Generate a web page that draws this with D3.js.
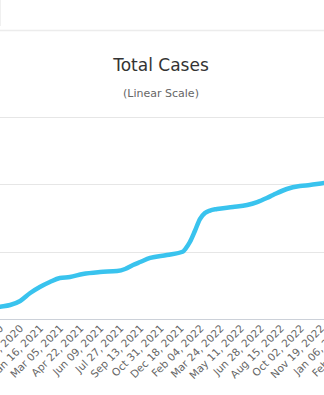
<!DOCTYPE html>
<html>
<head>
<meta charset="utf-8">
<script src="https://cdn.jsdelivr.net/npm/d3@7"></script>
<style>
  html, body { margin: 0; padding: 0; background: #fff; overflow: hidden; }
  svg { display: block; }
</style>
</head>
<body>
<svg id="chart" width="324" height="395"></svg>
<script>
// Cumulative case count, sampled along the curve
const dates = [
  "2020-09-01","2020-10-03","2020-10-27","2020-11-20","2020-12-14","2021-01-06","2021-01-30",
  "2021-02-23","2021-03-19","2021-04-19","2021-05-30","2021-07-10","2021-07-29",
  "2021-08-17","2021-09-03","2021-09-27","2021-11-06","2021-12-15","2021-12-20",
  "2021-12-31","2022-01-12","2022-01-24","2022-02-05","2022-02-17","2022-03-06",
  "2022-04-13","2022-05-17","2022-06-10","2022-07-03","2022-07-18","2022-08-20",
  "2022-09-20","2022-10-14","2022-11-17","2023-01-10","2023-03-01"
];
const totalCases = [
  150000,182000,207000,267000,385000,474000,548000,
  607000,622000,667000,696000,711000,741000,
  800000,844000,904000,948000,1000000,1037000,
  1140000,1304000,1481000,1570000,1607000,1630000,
  1659000,1689000,1733000,1793000,1837000,1926000,
  1970000,1985000,2015000,2040000,2060000
];
// Axis tick dates, one every 48 days
const tickDates = [
  "2020-08-25","2020-10-12","2020-11-29","2021-01-16","2021-03-05","2021-04-22",
  "2021-06-09","2021-07-27","2021-09-13","2021-10-31","2021-12-18","2022-02-04",
  "2022-03-24","2022-05-11","2022-06-28","2022-08-15","2022-10-02","2022-11-19",
  "2023-01-06","2023-02-23"
];
const gridValues = [1000000, 2000000, 3000000];
const titleText = "Total Cases";
const subtitleText = "(Linear Scale)";

const parse = d3.utcParse("%Y-%m-%d");
const fmt = d3.utcFormat("%b %d, %Y");
const series = dates.map((d, i) => ({ date: parse(d), value: totalCases[i] }));

const svg = d3.select("#chart");
const W = 324;

// Page separators above the chart
svg.append("line").attr("x1", 0).attr("x2", W).attr("y1", 30.5).attr("y2", 30.5)
  .attr("stroke", "#ececec").attr("stroke-width", 1.5);
svg.append("line").attr("x1", 0.5).attr("x2", 0.5).attr("y1", 0).attr("y2", 26)
  .attr("stroke", "#f0f0f0").attr("stroke-width", 1);

// Titles
svg.append("text").attr("x", 161).attr("y", 71).attr("text-anchor", "middle")
  .attr("font-family", "DejaVu Sans, sans-serif").attr("font-size", 17)
  .attr("fill", "#333").text(titleText);
svg.append("text").attr("x", 161).attr("y", 97).attr("text-anchor", "middle")
  .attr("font-family", "DejaVu Sans, sans-serif").attr("font-size", 11)
  .attr("fill", "#666").text(subtitleText);

// Scales
const x0 = parse("2021-01-16");
const pxPerDay = 0.418;
const xDomainEnd = parse("2023-03-01");
const xScale = d3.scaleUtc()
  .domain([x0, xDomainEnd])
  .range([44, 44 + (xDomainEnd - x0) / 864e5 * pxPerDay]);
const yScale = d3.scaleLinear().domain([0, 3000000]).range([319, 116.5]);

// Gridlines
svg.append("g").selectAll("line").data(gridValues).join("line")
  .attr("x1", 0).attr("x2", W)
  .attr("y1", d => Math.round(yScale(d)) + 0.5).attr("y2", d => Math.round(yScale(d)) + 0.5)
  .attr("stroke", "#e6e6e6").attr("stroke-width", 1);

// X axis line
svg.append("line").attr("x1", 0).attr("x2", W).attr("y1", 319.5).attr("y2", 319.5)
  .attr("stroke", "#ccd1d9").attr("stroke-width", 1);

// Rotated tick labels
svg.append("g").selectAll("text").data(tickDates.map(parse)).join("text")
  .attr("transform", d => `translate(${xScale(d)},329) rotate(-45)`)
  .attr("text-anchor", "end")
  .attr("font-family", "DejaVu Sans, sans-serif").attr("font-size", 10.5)
  .attr("fill", "#666")
  .text(d => fmt(d));

// Line
const line = d3.line()
  .x(d => xScale(d.date))
  .y(d => yScale(d.value))
  .curve(d3.curveMonotoneX);
svg.append("path").datum(series)
  .attr("d", line)
  .attr("fill", "none")
  .attr("stroke", "#39c3ee")
  .attr("stroke-width", 4.5)
  .attr("stroke-linejoin", "round")
  .attr("stroke-linecap", "round");
</script>
</body>
</html>
